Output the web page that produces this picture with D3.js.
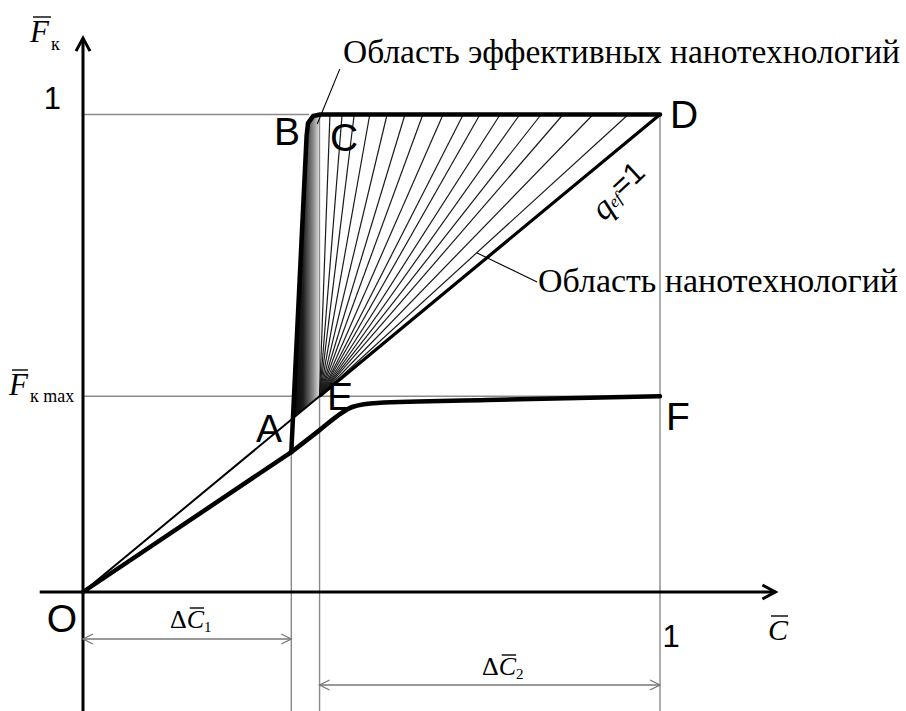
<!DOCTYPE html>
<html>
<head>
<meta charset="utf-8">
<script src="https://cdn.jsdelivr.net/npm/d3@7"></script>
<style>
  body { margin: 0; background: #fff; }
  svg { display: block; }
</style>
</head>
<body>
<svg id="chart" width="906" height="711"></svg>
<script>
// Relative concentration C̄ (across) and relative quality F̄к (up), both 0..1.
const xTicks = [1];
const yTicks = [1];
const fkMax = 0.41;          // F̄к max
const cA = 0.361;            // end of ΔC̄1
const cE = 0.41;             // point E, start of ΔC̄2

// Lower (thick) curve: straight O – A, then bending through E-level to F
const lowerStraightC = [0, 0.361];
const lowerStraightF = [0, 0.293];
const lowerBendC = [0.361, 0.41, 0.44, 0.468, 0.51, 0.7, 1];
const lowerBendF = [0.293, 0.339, 0.368, 0.388, 0.396, 0.402, 0.41];

// Boundary of the effective region: A – B – C – D
const edgeC = [0.361, 0.3875, 0.390, 0.399, 0.411, 1];
const edgeF = [0.293, 0.955, 0.982, 0.997, 1.0, 1.0];

// Shaded strip between the boundary and the vertical through E
const stripC = [0.3637, 0.3875, 0.390, 0.399, 0.41, 0.41];
const stripF = [0.3637, 0.955, 0.982, 0.995, 0.998, 0.41];

// Hatching rays from E to the upper line (their ends on F̄к = 1)
const hatchC = [0.428, 0.449, 0.470, 0.497, 0.527, 0.558, 0.589, 0.624, 0.659,
                0.688, 0.723, 0.757, 0.794, 0.832, 0.884, 0.945];

// Line q_ef = 1 : from O to D
const diagC = [0, 1];
const diagF = [0, 1];

const svg = d3.select("#chart");
const x = d3.scaleLinear().domain([0, 1]).range([83, 660]);
const y = d3.scaleLinear().domain([0, 1]).range([592, 114.5]);
const toPts = (cs, fs) => cs.map((c, i) => [c, fs[i]]);
const line = d3.line().x(d => x(d[0])).y(d => y(d[1]));
const smooth = d3.line().x(d => x(d[0])).y(d => y(d[1])).curve(d3.curveMonotoneX);

const serif = "'Liberation Serif', 'Times New Roman', serif";
const sans = "'Liberation Sans', Arial, sans-serif";

// ---------- guide lines ----------
const grid = svg.append("g").attr("stroke", "#8a8a8a").attr("stroke-width", 1.4).attr("fill", "none");
grid.append("path").attr("d", line([[0, 1], [0.392, 1]]));
grid.append("path").attr("d", line([[0, fkMax], [1, fkMax]]));
grid.append("path").attr("d", line([[cA, lowerStraightF[1]], [cA, -0.25]]));
grid.append("path").attr("d", line([[cE, fkMax], [cE, -0.25]]));
grid.append("path").attr("d", line([[1, 1], [1, -0.25]]));

// ---------- shaded strip ----------
const defs = svg.append("defs");
const grad = defs.append("linearGradient").attr("id", "stripGrad")
  .attr("gradientUnits", "userSpaceOnUse")
  .attr("x1", x(0.361)).attr("x2", x(0.412)).attr("y1", 0).attr("y2", 0);
grad.append("stop").attr("offset", 0).attr("stop-color", "#000");
grad.append("stop").attr("offset", 0.4).attr("stop-color", "#1c1c1c");
grad.append("stop").attr("offset", 0.75).attr("stop-color", "#8c8c8c");
grad.append("stop").attr("offset", 1).attr("stop-color", "#f2f2f2");
svg.append("path")
  .attr("d", line(toPts(stripC, stripF)) + "Z")
  .attr("fill", "url(#stripGrad)");
svg.append("path").attr("d", line([[cE, fkMax], [cE, 0.995]]))
  .attr("stroke", "#8a8a8a").attr("stroke-width", 1.2);

// ---------- hatching ----------
svg.append("g").attr("stroke", "#1a1a1a").attr("stroke-width", 1.2)
  .selectAll("path").data(hatchC).join("path")
  .attr("d", c => line([[cE, fkMax], [c, 1]]));

// ---------- q_ef = 1 line ----------
svg.append("path").attr("d", line(toPts(diagC, diagF)))
  .attr("stroke", "#000").attr("stroke-width", 2).attr("fill", "none");
svg.append("path").attr("d", line([[cE, cE], [1, 1]]))
  .attr("stroke", "#000").attr("stroke-width", 3.2).attr("fill", "none");

// ---------- thick curves ----------
const thick = svg.append("g").attr("stroke", "#000").attr("stroke-width", 4.5).attr("fill", "none")
  .attr("stroke-linejoin", "round").attr("stroke-linecap", "round");
thick.append("path").attr("d", line(toPts(lowerStraightC, lowerStraightF)));
thick.append("path").attr("d", smooth(toPts(lowerBendC, lowerBendF)));
thick.append("path").attr("d", line(toPts(edgeC, edgeF)));

// ---------- axes ----------
const ax = svg.append("g").attr("stroke", "#000").attr("stroke-width", 3).attr("fill", "none");
const xEnd = x(1.2), yEnd = y(1.16);
ax.append("line").attr("x1", x(-0.075)).attr("x2", xEnd).attr("y1", y(0)).attr("y2", y(0));
ax.append("polyline").attr("points", `${xEnd - 13},${y(0) - 7} ${xEnd},${y(0)} ${xEnd - 13},${y(0) + 7}`);
ax.append("line").attr("x1", x(0)).attr("x2", x(0)).attr("y1", y(-0.25)).attr("y2", yEnd);
ax.append("polyline").attr("points", `${x(0) - 7},${yEnd + 13} ${x(0)},${yEnd} ${x(0) + 7},${yEnd + 13}`);

// tick labels "1" on both axes
svg.append("g").attr("transform", `translate(0,${y(0)})`)
  .call(d3.axisBottom(x).tickValues(xTicks).tickSize(0).tickFormat(d3.format("d")))
  .call(g => g.select(".domain").remove())
  .selectAll("text")
  .attr("font-family", sans).attr("font-size", 31).attr("fill", "#000")
  .attr("text-anchor", "start").attr("x", 2).attr("y", 55).attr("dy", 0);
svg.append("g").attr("transform", `translate(${x(0)},0)`)
  .call(d3.axisLeft(y).tickValues(yTicks).tickSize(0).tickFormat(d3.format("d")))
  .call(g => g.select(".domain").remove())
  .selectAll("text")
  .attr("font-family", sans).attr("font-size", 31).attr("fill", "#000")
  .attr("text-anchor", "end").attr("x", -22).attr("y", -6.5).attr("dy", 0);

// ---------- point letters ----------
const letters = [
  { t: "O", x: 62, y: 632, a: "middle" },
  { t: "A", x: 269, y: 442, a: "middle" },
  { t: "B", x: 287, y: 145, a: "middle" },
  { t: "C", x: 344, y: 151, a: "middle" },
  { t: "D", x: 670, y: 128, a: "start" },
  { t: "E", x: 327, y: 410, a: "start" },
  { t: "F", x: 666, y: 430, a: "start" }
];
svg.append("g").selectAll("text").data(letters).join("text")
  .attr("x", d => d.x).attr("y", d => d.y).attr("text-anchor", d => d.a)
  .attr("font-family", sans).attr("font-size", 39).attr("fill", "#000")
  .text(d => d.t);

// ---------- helper: overbar above one character of a text ----------
function overbar(textSel, charIndex, lift, extra) {
  const node = textSel.node();
  const b = node.getExtentOfChar(charIndex);
  svg.append("line")
    .attr("x1", b.x + 3).attr("x2", b.x + b.width + (extra || 0))
    .attr("y1", b.y + lift).attr("y2", b.y + lift)
    .attr("stroke", "#000").attr("stroke-width", 1.4);
}

// axis titles
const fk = svg.append("text").attr("x", 30).attr("y", 42)
  .attr("font-family", serif).attr("fill", "#000");
fk.append("tspan").attr("font-style", "italic").attr("font-size", 31).text("F");
fk.append("tspan").attr("font-size", 18).attr("dy", 8).attr("dx", 2).text("к");
overbar(fk, 0, 3, 2);

const fkm = svg.append("text").attr("x", 9).attr("y", 395)
  .attr("font-family", serif).attr("fill", "#000");
fkm.append("tspan").attr("font-style", "italic").attr("font-size", 31).text("F");
fkm.append("tspan").attr("font-size", 18).attr("dy", 7).attr("dx", 2).text("к max");
overbar(fkm, 0, 3, 0);

const cl = svg.append("text").attr("x", 768).attr("y", 640)
  .attr("font-family", serif).attr("fill", "#000");
cl.append("tspan").attr("font-style", "italic").attr("font-size", 30).text("C");
overbar(cl, 0, 3, 0);

// ---------- dimension arrows ----------
function dimension(c0, c1, py) {
  const g = svg.append("g").attr("stroke", "#777").attr("stroke-width", 1.3).attr("fill", "none");
  const x0 = x(c0), x1 = x(c1);
  g.append("line").attr("x1", x0).attr("x2", x1).attr("y1", py).attr("y2", py);
  g.append("polyline").attr("points", `${x0 + 10},${py - 5} ${x0},${py} ${x0 + 10},${py + 5}`);
  g.append("polyline").attr("points", `${x1 - 10},${py - 5} ${x1},${py} ${x1 - 10},${py + 5}`);
}
dimension(0, cA, 639);
dimension(cE, 1, 685);

function deltaLabel(px, py, sub) {
  const t = svg.append("text").attr("x", px).attr("y", py)
    .attr("font-family", serif).attr("fill", "#000");
  t.append("tspan").attr("font-size", 26).text("Δ");
  t.append("tspan").attr("font-size", 26).attr("font-style", "italic").text("C");
  t.append("tspan").attr("font-size", 15).attr("dy", 4).text(sub);
  overbar(t, 1, 3, 0);
}
deltaLabel(170, 628, "1");
deltaLabel(482, 675, "2");

// ---------- q_ef = 1 ----------
const q = svg.append("text")
  .attr("transform", "translate(627,200) rotate(-43)")
  .attr("text-anchor", "middle").attr("fill", "#000");
q.append("tspan").attr("font-family", serif).attr("font-style", "italic").attr("font-size", 34).text("q");
q.append("tspan").attr("font-family", serif).attr("font-style", "italic").attr("font-size", 17).attr("dy", -2).text("ef");
q.append("tspan").attr("font-family", sans).attr("font-size", 30).attr("dy", -3).text("=1");

// ---------- region captions with leaders ----------
const lead = svg.append("g").attr("stroke", "#000").attr("stroke-width", 1.1);
lead.append("path").attr("d", line([[0.406, 0.98], [0.445, 1.095]]));
lead.append("path").attr("d", line([[0.683, 0.710], [0.787, 0.649]]));

svg.append("text").attr("x", 343).attr("y", 63)
  .attr("font-family", serif).attr("font-size", 33).attr("fill", "#000")
  .attr("textLength", 557).attr("lengthAdjust", "spacingAndGlyphs")
  .text("Область эффективных нанотехнологий");
svg.append("text").attr("x", 538).attr("y", 292)
  .attr("font-family", serif).attr("font-size", 33).attr("fill", "#000")
  .attr("textLength", 360).attr("lengthAdjust", "spacingAndGlyphs")
  .text("Область нанотехнологий");
</script>
</body>
</html>
